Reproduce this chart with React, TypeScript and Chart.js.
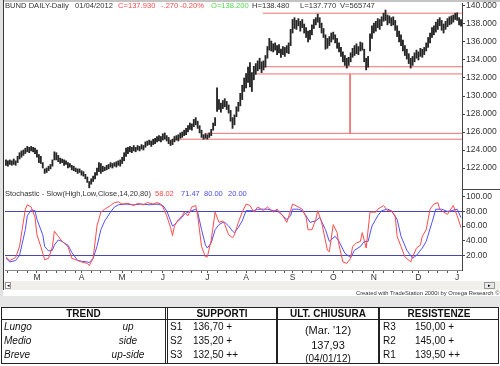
import React, { useEffect, useRef } from "react";
import { Chart, registerables } from "chart.js";
Chart.register(...registerables);

// ---- price bars (daily high / low), Feb 2011 -> 04 Jan 2012 ----
const barHigh = [
  122.9, 122.8, 122.9, 122.8, 123.0, 122.8, 123.3, 123.7, 123.9, 124.0,
  124.2, 124.4, 124.3, 124.4, 124.3, 124.2, 124.0, 123.5, 123.3, 122.6,
  121.9, 122.0, 122.2, 122.4, 122.9, 123.8, 123.7, 123.4, 123.1, 123.0,
  122.9, 122.8, 122.6, 122.5, 122.3, 122.2, 122.0, 121.9, 121.9, 121.7,
  121.6, 121.3, 121.0, 120.5, 120.8, 121.1, 121.5, 122.0, 122.6, 122.5,
  122.2, 122.1, 122.3, 122.4, 122.6, 122.5, 122.6, 122.7, 122.8, 122.9,
  123.2, 123.7, 124.2, 124.3, 124.4, 124.3, 124.5, 124.3, 124.5, 124.4,
  124.6, 124.5, 124.9, 125.0, 125.1, 125.0, 125.2, 125.3, 125.5, 125.6,
  125.5, 125.8, 125.9, 125.6, 125.4, 125.1, 125.2, 125.5, 125.6, 125.7,
  125.9, 126.0, 126.2, 126.4, 126.7, 127.0, 126.9, 127.4, 127.6, 127.2,
  126.7, 126.2, 125.7, 125.8, 125.7, 125.9, 126.3, 127.0, 127.6, 130.9,
  129.6, 129.2, 129.5, 129.7, 129.4, 129.0, 128.4, 127.6, 127.9, 128.8,
  129.3, 130.3, 131.2, 132.0, 132.5, 133.2, 133.7, 132.6, 133.3, 133.6,
  133.9, 134.2, 133.8, 133.9, 134.5, 135.5, 136.4, 136.1, 135.8, 135.9,
  135.6, 135.7, 135.2, 135.5, 135.4, 135.6, 135.9, 137.4, 138.5, 138.7,
  138.4, 138.6, 138.3, 138.5, 138.0, 137.6, 137.2, 137.3, 137.9, 138.5,
  138.7, 139.1, 138.7, 138.1, 137.5, 136.8, 136.4, 136.6, 137.0, 137.1,
  136.8, 136.4, 135.9, 135.4, 134.9, 134.5, 134.2, 134.3, 134.8, 135.3,
  135.6, 135.8, 135.5, 136.0, 135.9, 135.2, 134.2, 134.4, 136.9, 137.8,
  138.1, 138.3, 138.6, 138.5, 138.8, 139.2, 139.55, 139.0, 138.9, 138.7,
  138.8, 138.4, 137.8, 137.2, 136.8, 136.2, 135.6, 135.2, 134.7, 134.2,
  134.4, 134.8, 135.1, 134.9, 135.3, 135.2, 135.4, 135.9, 136.5, 137.0,
  137.6, 137.8, 138.2, 138.5, 138.7, 138.4, 138.0, 138.3, 138.6, 138.8,
  138.9, 139.0, 139.2, 139.25, 138.7, 138.48,
];
const barLow = [
  122.3, 122.2, 122.4, 122.3, 122.4, 122.3, 122.6, 123.0, 123.2, 123.4,
  123.6, 123.8, 123.7, 123.9, 123.8, 123.6, 123.2, 122.6, 122.5, 122.0,
  121.4, 121.5, 121.7, 121.9, 122.2, 122.9, 122.9, 122.7, 122.5, 122.6,
  122.3, 122.4, 122.0, 122.1, 121.8, 121.7, 121.6, 121.4, 121.5, 121.2,
  121.1, 120.8, 120.4, 119.8, 120.2, 120.5, 120.8, 121.2, 121.6, 121.4,
  121.6, 121.7, 121.8, 121.9, 122.1, 122.0, 122.2, 122.1, 122.3, 122.2,
  122.5, 122.8, 123.3, 123.6, 123.8, 123.7, 123.9, 123.8, 124.0, 123.9,
  124.1, 124.0, 124.3, 124.5, 124.6, 124.4, 124.6, 124.7, 124.9, 125.0,
  124.9, 125.1, 125.2, 125.0, 124.7, 124.5, 124.6, 124.9, 125.1, 125.0,
  125.3, 125.4, 125.6, 125.7, 126.0, 126.3, 126.2, 126.6, 126.8, 126.4,
  125.9, 125.4, 125.2, 125.3, 125.2, 125.4, 125.6, 126.2, 126.7, 128.3,
  128.5, 128.2, 128.6, 128.8, 128.5, 128.1, 127.2, 126.4, 126.8, 127.7,
  128.3, 128.9, 129.6, 130.5, 130.9, 131.5, 131.0, 130.5, 131.8, 132.4,
  132.8, 133.0, 132.6, 132.9, 133.2, 134.2, 135.1, 135.0, 134.9, 135.1,
  134.6, 134.8, 134.3, 134.6, 134.4, 134.8, 134.7, 135.6, 137.0, 137.5,
  137.4, 137.8, 137.2, 137.6, 137.0, 136.5, 136.0, 136.3, 136.8, 137.5,
  137.9, 138.2, 137.6, 137.0, 136.5, 135.2, 135.3, 135.6, 136.0, 136.3,
  135.9, 135.3, 134.9, 134.4, 133.8, 133.4, 133.1, 133.4, 133.8, 134.3,
  134.5, 134.7, 134.6, 135.0, 135.1, 133.8, 132.9, 133.2, 135.0, 136.4,
  137.0, 137.2, 137.6, 137.4, 137.8, 138.3, 138.4, 137.9, 138.1, 137.8,
  137.9, 137.3, 136.6, 136.0, 135.6, 135.0, 134.5, 134.1, 133.6, 133.1,
  133.4, 133.8, 134.2, 134.0, 134.4, 134.3, 134.6, 135.0, 135.4, 135.9,
  136.5, 136.8, 137.1, 137.4, 137.8, 137.3, 137.0, 137.4, 137.7, 137.9,
  138.0, 138.2, 138.5, 138.4, 137.9, 137.77,
];

// ---- support / resistance lines (price level, first bar index) ----
const levelPrices = [139.2, 133.25, 132.45, 125.85, 125.2];
const levelStartIdx = [132.7, 132, 129.6, 102.8, 85.7];
const levelEndIdx = 235.5;
const pivotIdx = 177.7;
const pivotTop = 132.45;
const pivotBottom = 125.85;

// ---- stochastic slow (%K red, %D blue) ----
const stochKIdx = [0,2,5,7,10,11,13,15,16,18,20,22,24,25,27,29,30,32,34,37,39,42,43,45,47,49,51,54,56,58,60,63,66,68,71,73,76,78,80,81,83,85,86,87,89,91,92,94,96,98,99,101,103,104,106,108,110,112,113,115,117,118,120,122,124,126,128,130,133,135,138,140,143,145,147,148,151,153,155,156,158,160,161,163,166,167,169,171,172,174,176,178,179,181,183,184,186,188,191,192,195,197,199,201,202,204,206,209,210,212,214,215,217,219,221,223,224,226,228,231,233,235];
const stochKVal = [18,13,17,32,83,89,86,72,48,32,14,16,32,53,46,39,37,32,16,13,11,9,6,16,60,79,83,88,92,93,90,91,88,91,89,92,90,92,90,86,74,58,47,60,69,74,79,74,86,88,74,32,18,18,41,79,65,67,62,48,44,48,65,79,90,88,79,86,81,86,79,83,74,65,81,90,86,83,72,55,55,69,81,65,27,25,62,51,34,11,9,16,32,37,39,51,30,79,79,83,88,81,81,74,46,32,18,11,18,30,34,46,55,83,90,92,83,79,76,88,74,58.02];
const stochDIdx = [0,2,5,7,10,11,13,15,16,19,20,22,24,25,27,29,30,32,34,37,39,42,43,45,47,49,51,54,56,58,62,66,70,74,78,81,83,85,86,87,89,91,92,94,96,98,99,101,103,104,106,108,110,112,113,115,117,118,120,122,124,126,128,130,133,135,138,140,143,145,147,148,151,153,155,157,160,162,165,167,170,172,175,178,180,183,185,187,189,192,194,197,199,202,204,207,210,212,215,217,220,222,225,228,230,233,235];
const stochDVal = [16,11,13,20,55,74,82,81,69,48,32,26,27,34,41,39,37,34,24,13,12,11,10,16,32,55,67,79,86,89,90,89,90,89,90,88,81,67,60,62,67,72,76,79,81,83,79,55,34,30,37,55,62,65,65,60,53,51,58,67,81,81,81,83,83,83,81,81,74,69,74,83,83,81,74,65,67,72,55,39,46,39,23,17,27,32,39,39,60,74,81,83,81,69,46,27,16,20,30,39,65,83,83,80,81,83,71.47];

// ---- axes ----
const priceTicks = [122, 124, 126, 128, 130, 132, 134, 136, 138, 140];
const stochTicks = [20, 40, 60, 80, 100];
const stochLevels = [20, 80];
const monthStartIdx = [16, 39, 60, 81, 104, 124, 148, 169, 190, 213, 233];
const monthLetters = ["M", "A", "M", "J", "J", "A", "S", "O", "N", "D", "J"];
const weekTickIdx = [1,6,11,16,21,26,31,36,39,44,49,54,60,65,70,75,81,86,91,96,101,104,109,114,119,124,129,134,139,144,148,153,158,163,169,174,179,184,190,195,200,205,210,213,218,223,228,233];

const FONT = "'Liberation Sans', Arial, sans-serif";
const AXIS_W = 38;
const X_MIN = -0.5;
const X_MAX = 235.5;

const noPad = (s: any) => {
  s.paddingTop = 0;
  s.paddingBottom = 0;
};

export default function App() {
  const priceRef = useRef<HTMLCanvasElement>(null);
  const stochRef = useRef<HTMLCanvasElement>(null);

  useEffect(() => {
    const levelSets = levelPrices.map((p, k) => ({
      type: "line" as const,
      data: [
        { x: levelStartIdx[k], y: p },
        { x: levelEndIdx, y: p },
      ],
      borderColor: "#f07070",
      borderWidth: 1,
      pointRadius: 0,
    }));
    const price = new Chart(priceRef.current!, {
      type: "bar",
      data: {
        datasets: [
          {
            type: "bar",
            data: barHigh.map((h, i) => ({ x: i, y: [barLow[i], h] })) as any,
            backgroundColor: "#262626",
            barThickness: 1.2,
            grouped: false,
          } as any,
          ...levelSets,
          {
            type: "line",
            data: [
              { x: pivotIdx, y: pivotTop },
              { x: pivotIdx, y: pivotBottom },
            ],
            borderColor: "#f07070",
            borderWidth: 1,
            pointRadius: 0,
          },
        ],
      },
      options: {
        animation: false,
        responsive: false,
        maintainAspectRatio: false,
        layout: { padding: { left: 5, top: 3, right: 0, bottom: 1 } },
        plugins: { legend: { display: false }, tooltip: { enabled: false } },
        scales: {
          x: { type: "linear", min: X_MIN, max: X_MAX, display: false, offset: false },
          y: {
            position: "right",
            min: 119.667,
            max: 140.333,
            afterBuildTicks: (s: any) => {
              s.ticks = priceTicks.map((v) => ({ value: v }));
            },
            afterFit: (s: any) => {
              s.width = AXIS_W;
              noPad(s);
            },
            ticks: {
              callback: (v: any) => Number(v).toFixed(3),
              font: { family: FONT, size: 8.5 },
              color: "#333",
              padding: 1,
            },
            grid: { drawOnChartArea: false, tickLength: 3, color: "#444" },
            border: { color: "#444" },
          },
        },
      },
    });

    const stoch = new Chart(stochRef.current!, {
      type: "line",
      data: {
        datasets: [
          {
            data: stochKIdx.map((x, i) => ({ x, y: stochKVal[i] })),
            borderColor: "#ff4a4a",
            borderWidth: 1,
            pointRadius: 0,
            tension: 0,
          },
          {
            data: stochDIdx.map((x, i) => ({ x, y: stochDVal[i] })),
            borderColor: "#5050ff",
            borderWidth: 1,
            pointRadius: 0,
            tension: 0,
          },
        ],
      },
      options: {
        animation: false,
        responsive: false,
        maintainAspectRatio: false,
        layout: { padding: { left: 5, top: 1, right: 0, bottom: 0 } },
        plugins: { legend: { display: false }, tooltip: { enabled: false } },
        scales: {
          x: {
            type: "linear",
            min: X_MIN,
            max: X_MAX,
            offset: false,
            afterBuildTicks: (s: any) => {
              s.ticks = weekTickIdx.map((v) => ({ value: v }));
            },
            afterFit: (s: any) => {
              s.height = 14;
            },
            ticks: {
              autoSkip: false,
              maxRotation: 0,
              padding: 0,
              font: { family: FONT, size: 8.5 },
              color: "#333",
              callback: (v: any) => {
                const k = monthStartIdx.indexOf(Number(v));
                return k >= 0 ? monthLetters[k] : "";
              },
            },
            grid: { drawOnChartArea: false, tickLength: 3, color: "#555" },
            border: { color: "#888" },
          },
          y: {
            position: "right",
            min: 0,
            max: 109.2,
            afterBuildTicks: (s: any) => {
              s.ticks = stochTicks.map((v) => ({ value: v }));
            },
            afterFit: (s: any) => {
              s.width = AXIS_W;
              noPad(s);
            },
            ticks: {
              callback: (v: any) => Number(v).toFixed(2),
              font: { family: FONT, size: 8.5 },
              color: "#333",
              padding: 1,
            },
            grid: {
              drawOnChartArea: true,
              tickLength: 3,
              color: (c: any) =>
                c.tick && stochLevels.includes(c.tick.value) ? "#4646b4" : "rgba(0,0,0,0)",
              tickColor: "#444",
            },
            border: { color: "#444" },
          },
        },
      },
    });

    return () => {
      price.destroy();
      stoch.destroy();
    };
  }, []);

  const txt = (left: number, top: number, color: string, s: string, size = 7.6) => (
    <span
      style={{
        position: "absolute",
        left,
        top,
        color,
        fontSize: size,
        lineHeight: `${size}px`,
        whiteSpace: "nowrap",
      }}
    >
      {s}
    </span>
  );

  const cell = (
    left: number,
    top: number,
    s: string,
    opts: { italic?: boolean; bold?: boolean; center?: boolean; width?: number; size?: number } = {}
  ) => (
    <div
      style={{
        position: "absolute",
        left,
        top,
        width: opts.width,
        textAlign: opts.center ? "center" : "left",
        fontSize: opts.size ?? 10,
        lineHeight: `${opts.size ?? 10}px`,
        fontStyle: opts.italic ? "italic" : "normal",
        fontWeight: opts.bold ? "bold" : "normal",
        whiteSpace: "nowrap",
        color: "#111",
      }}
    >
      {s}
    </div>
  );

  return (
    <div
      style={{
        position: "absolute",
        left: 0,
        top: 0,
        width: 500,
        height: 366,
        overflow: "hidden",
        background: "#fff",
        fontFamily: FONT,
      }}
    >
      <canvas ref={priceRef} width={500} height={190} style={{ position: "absolute", left: 0, top: 0 }} />
      <canvas ref={stochRef} width={500} height={95} style={{ position: "absolute", left: 0, top: 189 }} />

      {/* frame */}
      <div style={{ position: "absolute", left: 0, top: 0, width: 500, height: 2, background: "#c4c4c4" }} />
      <div style={{ position: "absolute", left: 0, top: 0, width: 3, height: 296, background: "#e2e2e2" }} />
      <div style={{ position: "absolute", left: 3, top: 0, width: 1, height: 290, background: "#3a3a3a" }} />
      <div style={{ position: "absolute", left: 462, top: 189, width: 38, height: 1, background: "#444" }} />

      {/* header texts */}
      {txt(5, 2, "#333", "BUND DAILY-Daily")}
      {txt(75, 2, "#333", "01/04/2012")}
      {txt(118, 2, "#ff4848", "C=137.930")}
      {txt(161, 2, "#ff4848", "-.270")}
      {txt(180, 2, "#ff4848", "-0.20%")}
      {txt(211, 2, "#4cdc4c", "O=138.200")}
      {txt(252, 2, "#333", "H=138.480")}
      {txt(300, 2, "#333", "L=137.770")}
      {txt(340, 2, "#333", "V=565747")}

      {txt(5, 190, "#333", "Stochastic - Slow(High,Low,Close,14,20,80)", 7.5)}
      {txt(155, 190, "#ff4848", "58.02", 7.5)}
      {txt(181, 190, "#4a4af0", "71.47", 7.5)}
      {txt(204, 190, "#4a4af0", "80.00", 7.5)}
      {txt(228, 190, "#4a4af0", "20.00", 7.5)}

      {/* scrollbar */}
      <div style={{ position: "absolute", left: 4, top: 281, width: 496, height: 9, background: "#f0efea" }} />
      <div style={{ position: "absolute", left: 5, top: 282, width: 6, height: 7, background: "#fff", border: "1px solid #999", boxSizing: "border-box", fontSize: 5, lineHeight: "5px", textAlign: "center", color: "#000" }}>◂</div>
      <div style={{ position: "absolute", left: 484, top: 282, width: 11, height: 7, background: "#e8e8e8", border: "1px solid #999", boxSizing: "border-box", fontSize: 5, lineHeight: "5px", textAlign: "center", color: "#000" }}>▸</div>
      <div style={{ position: "absolute", left: 356, top: 290, fontSize: 5.8, lineHeight: "6px", color: "#333", whiteSpace: "nowrap" }}>
        Created with TradeStation 2000i by Omega Research © 1999
      </div>
      <div style={{ position: "absolute", left: 0, top: 296, width: 500, height: 11, background: "#e6e6e6" }} />

      {/* table */}
      <div style={{ position: "absolute", left: 1, top: 307, width: 498, height: 57, border: "1px solid #222", boxSizing: "border-box", background: "#fff" }} />
      <div style={{ position: "absolute", left: 1, top: 319, width: 498, height: 1, background: "#222" }} />
      <div style={{ position: "absolute", left: 165, top: 307, width: 1, height: 57, background: "#222" }} />
      <div style={{ position: "absolute", left: 167, top: 307, width: 1, height: 57, background: "#222" }} />
      <div style={{ position: "absolute", left: 276, top: 307, width: 2, height: 57, background: "#222" }} />
      <div style={{ position: "absolute", left: 378, top: 307, width: 2, height: 57, background: "#222" }} />

      {cell(2, 309, "TREND", { bold: true, center: true, width: 163 })}
      {cell(168, 309, "SUPPORTI", { bold: true, center: true, width: 108 })}
      {cell(278, 309, "ULT. CHIUSURA", { bold: true, center: true, width: 100 })}
      {cell(380, 309, "RESISTENZE", { bold: true, center: true, width: 118 })}

      {cell(4, 322, "Lungo", { italic: true })}
      {cell(4, 336, "Medio", { italic: true })}
      {cell(4, 350, "Breve", { italic: true })}
      {cell(90, 322, "up", { italic: true, center: true, width: 76 })}
      {cell(90, 336, "side", { italic: true, center: true, width: 76 })}
      {cell(90, 350, "up-side", { italic: true, center: true, width: 76 })}

      {cell(170, 322, "S1")}
      {cell(170, 336, "S2")}
      {cell(170, 350, "S3")}
      {cell(193, 322, "136,70 +")}
      {cell(193, 336, "135,20 +")}
      {cell(193, 350, "132,50 ++")}

      {cell(278, 325, "(Mar. '12)", { center: true, width: 100, size: 11 })}
      {cell(278, 340, "137,93", { center: true, width: 100, size: 11 })}
      {cell(278, 354, "(04/01/12)", { center: true, width: 100, size: 10 })}

      {cell(383, 322, "R3")}
      {cell(383, 336, "R2")}
      {cell(383, 350, "R1")}
      {cell(415, 322, "150,00 +")}
      {cell(415, 336, "145,00 +")}
      {cell(415, 350, "139,50 ++")}
    </div>
  );
}
